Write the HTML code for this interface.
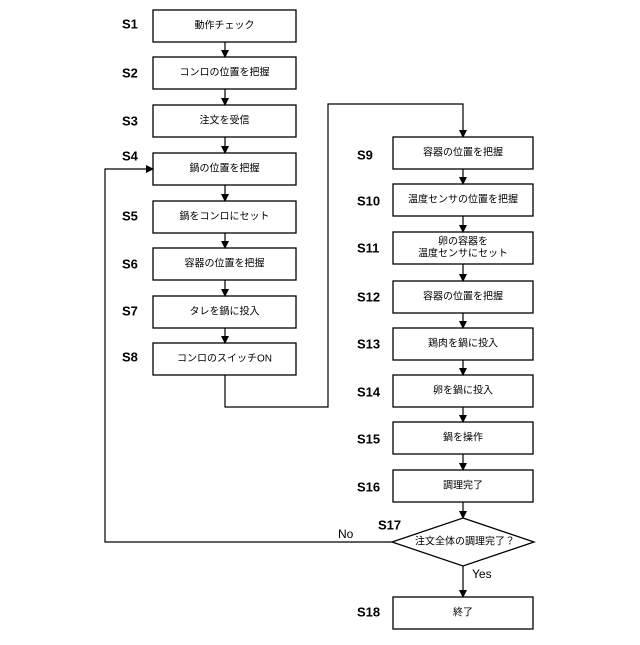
<!DOCTYPE html>
<html><head><meta charset="utf-8"><style>
body{margin:0;background:#fff;}
svg text{font-family:"Liberation Sans","Noto Sans CJK JP",sans-serif;}
.b{fill:#fff;stroke:#000;stroke-width:1.3}
.t{font-size:10px;text-anchor:middle;dominant-baseline:central}
.s{font-size:13px;font-weight:bold;dominant-baseline:central}
.l{fill:none;stroke:#000;stroke-width:1.2}
</style></head><body>
<svg width="640" height="640" viewBox="0 0 640 640" xmlns="http://www.w3.org/2000/svg">
<defs><marker id="a" markerWidth="8" markerHeight="8" refX="7" refY="4" orient="auto" markerUnits="userSpaceOnUse"><path d="M0,0 L8,4 L0,8 z"/></marker></defs>
<g id="left">
<rect class="b" x="153" y="10" width="143" height="32"/><text class="t" x="224.5" y="26">動作チェック</text><text class="s" x="122" y="24">S1</text>
<rect class="b" x="153" y="57" width="143" height="32"/><text class="t" x="224.5" y="73">コンロの位置を把握</text><text class="s" x="122" y="73">S2</text>
<rect class="b" x="153" y="105" width="143" height="32"/><text class="t" x="224.5" y="121">注文を受信</text><text class="s" x="122" y="121">S3</text>
<rect class="b" x="153" y="153" width="143" height="32"/><text class="t" x="224.5" y="169">鍋の位置を把握</text><text class="s" x="122" y="156">S4</text>
<rect class="b" x="153" y="201" width="143" height="32"/><text class="t" x="224.5" y="217">鍋をコンロにセット</text><text class="s" x="122" y="216">S5</text>
<rect class="b" x="153" y="248" width="143" height="32"/><text class="t" x="224.5" y="264">容器の位置を把握</text><text class="s" x="122" y="264">S6</text>
<rect class="b" x="153" y="296" width="143" height="32"/><text class="t" x="224.5" y="312">タレを鍋に投入</text><text class="s" x="122" y="311">S7</text>
<rect class="b" x="153" y="343" width="143" height="32"/><text class="t" x="224.5" y="359">コンロのスイッチON</text><text class="s" x="122" y="357">S8</text>
</g>
<path class="l" d="M225 42V57" marker-end="url(#a)"/>
<path class="l" d="M225 89V105" marker-end="url(#a)"/>
<path class="l" d="M225 137V153" marker-end="url(#a)"/>
<path class="l" d="M225 185V201" marker-end="url(#a)"/>
<path class="l" d="M225 233V248" marker-end="url(#a)"/>
<path class="l" d="M225 280V296" marker-end="url(#a)"/>
<path class="l" d="M225 328V343" marker-end="url(#a)"/>
<path class="l" d="M225 375V407H328V104H463V137" marker-end="url(#a)"/>
<rect class="b" x="393" y="137" width="140" height="32"/><text class="t" x="463" y="153">容器の位置を把握</text><text class="s" x="357" y="155">S9</text>
<rect class="b" x="393" y="184" width="140" height="32"/><text class="t" x="463" y="200">温度センサの位置を把握</text><text class="s" x="357" y="201">S10</text>
<rect class="b" x="393" y="232" width="140" height="32"/><text class="t" x="463" y="242">卵の容器を</text><text class="t" x="463" y="254">温度センサにセット</text><text class="s" x="357" y="248">S11</text>
<rect class="b" x="393" y="281" width="140" height="32"/><text class="t" x="463" y="297">容器の位置を把握</text><text class="s" x="357" y="297">S12</text>
<rect class="b" x="393" y="328" width="140" height="32"/><text class="t" x="463" y="344">鶏肉を鍋に投入</text><text class="s" x="357" y="344">S13</text>
<rect class="b" x="393" y="375" width="140" height="32"/><text class="t" x="463" y="391">卵を鍋に投入</text><text class="s" x="357" y="392">S14</text>
<rect class="b" x="393" y="422" width="140" height="32"/><text class="t" x="463" y="438">鍋を操作</text><text class="s" x="357" y="439">S15</text>
<rect class="b" x="393" y="470" width="140" height="32"/><text class="t" x="463" y="486">調理完了</text><text class="s" x="357" y="487">S16</text>
<path class="l" d="M463 169V184" marker-end="url(#a)"/>
<path class="l" d="M463 216V232" marker-end="url(#a)"/>
<path class="l" d="M463 264V281" marker-end="url(#a)"/>
<path class="l" d="M463 313V328" marker-end="url(#a)"/>
<path class="l" d="M463 360V375" marker-end="url(#a)"/>
<path class="l" d="M463 407V422" marker-end="url(#a)"/>
<path class="l" d="M463 454V470" marker-end="url(#a)"/>
<path class="l" d="M463 502V518" marker-end="url(#a)"/>
<polygon class="b" points="463,518 534,542 463,566 392,542"/>
<text class="t" x="465" y="542">注文全体の調理完了？</text>
<text class="s" x="378" y="525">S17</text>
<path class="l" d="M392 542H105V169H153" marker-end="url(#a)"/>
<text style="font-size:12px" x="338" y="538">No</text>
<path class="l" d="M463 566V597" marker-end="url(#a)"/>
<text style="font-size:12px" x="472" y="578">Yes</text>
<rect class="b" x="393" y="597" width="140" height="32"/><text class="t" x="463" y="613">終了</text><text class="s" x="357" y="612">S18</text>
</svg>
</body></html>
